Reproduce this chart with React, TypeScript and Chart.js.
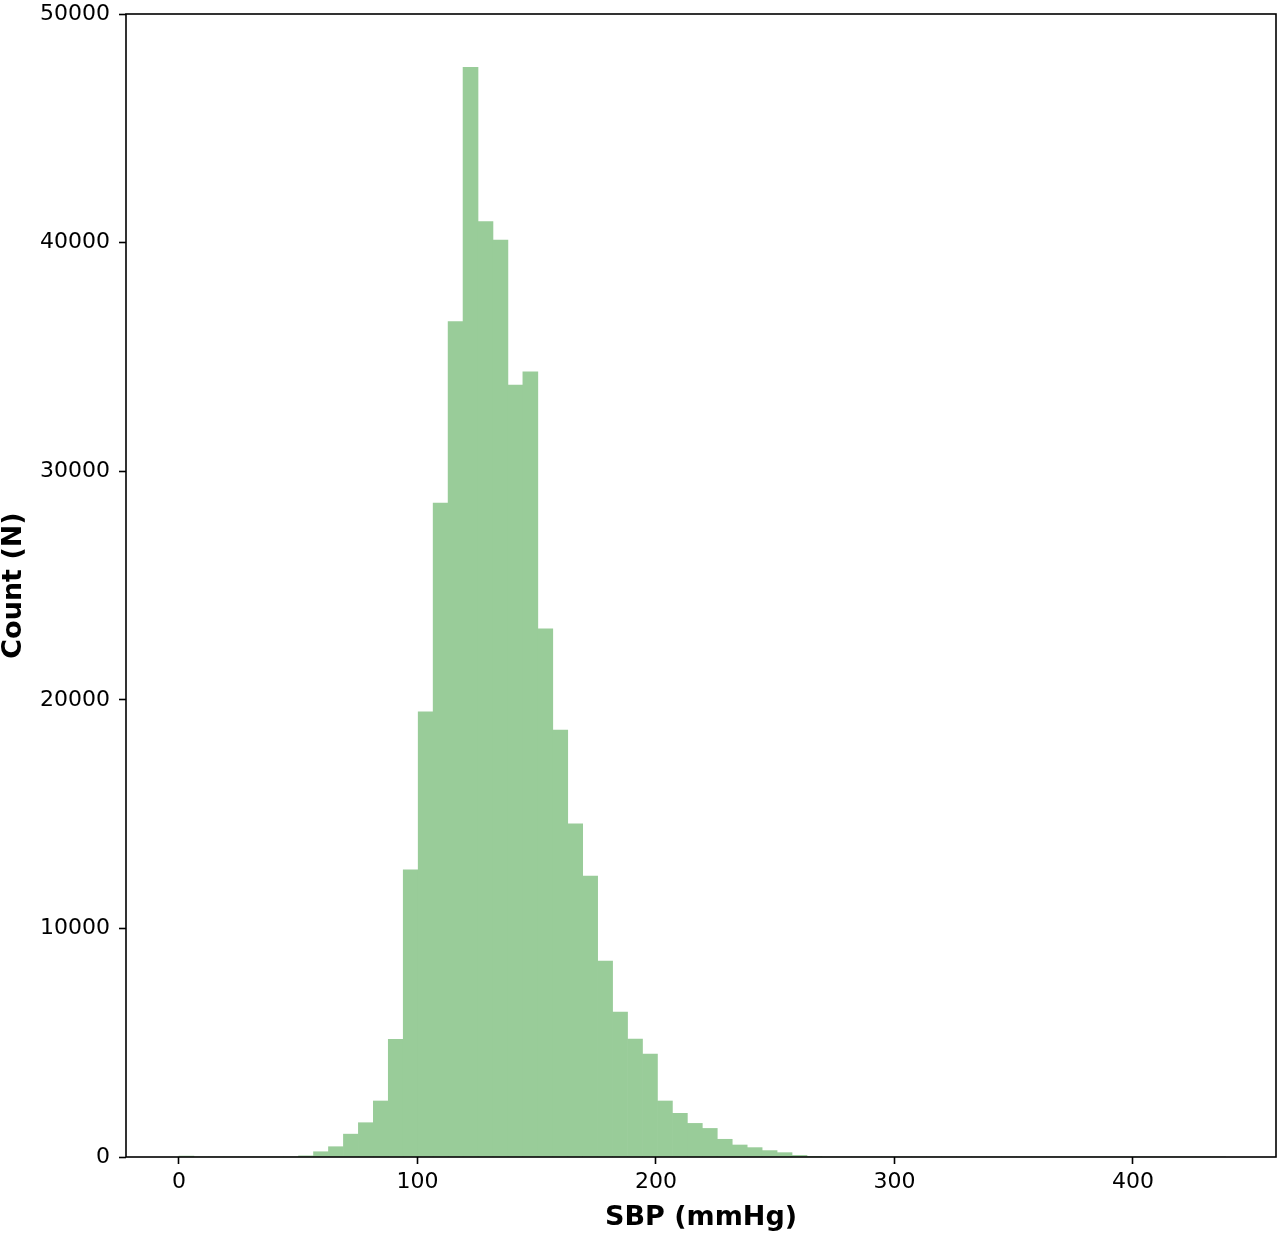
import React, { useEffect, useRef } from 'react'
import { Chart, registerables } from 'chart.js'

Chart.register(...registerables)

// histogram bins: 70 equal bins starting at 0 mmHg
const binStart = 0
const binWidth = 6.27
const counts = [
  40, 0, 0, 0, 0, 0, 0, 0, 50, 230,
  450, 1000, 1500, 2450, 5150, 12560, 19470, 28610, 36540, 47670,
  40920, 40110, 33770, 34350, 23100, 18680, 14570, 12290, 8570, 6340,
  5160, 4500, 2450, 1910, 1470, 1250, 775, 525, 410, 280,
  190, 70, 20, 0, 0, 0, 0, 0, 0, 0,
  0, 0, 0, 0, 0, 0, 0, 0, 0, 0,
  0, 0, 0, 0, 0, 0, 0, 0, 0, 0,
]
const xTicks = [0, 100, 200, 300, 400]
const yTicks = [0, 10000, 20000, 30000, 40000, 50000]

const FONT = '"DejaVu Sans", sans-serif'

// matplotlib-like box around the plot area
const framePlugin = {
  id: 'frame',
  afterDraw (chart: any) {
    const { ctx, chartArea } = chart
    ctx.save()
    ctx.strokeStyle = '#000'
    ctx.lineWidth = 1.6
    ctx.strokeRect(chartArea.left, chartArea.top, chartArea.right - chartArea.left, chartArea.bottom - chartArea.top)
    ctx.restore()
  },
}

export default function App () {
  const canvasRef = useRef<HTMLCanvasElement>(null)
  const chartRef = useRef<Chart | null>(null)

  useEffect(() => {
    if (chartRef.current) chartRef.current.destroy()
    if (!canvasRef.current) return

    const points = counts.map((c, i) => ({ x: binStart + binWidth * (i + 0.5), y: c }))

    chartRef.current = new Chart(canvasRef.current, {
      type: 'bar',
      data: {
        datasets: [{
          data: points as any,
          backgroundColor: '#99cc99',
          borderWidth: 0,
          barPercentage: 1,
          categoryPercentage: 1,
        }],
      },
      options: {
        animation: false,
        responsive: true,
        maintainAspectRatio: false,
        layout: { padding: { top: 14, right: 4, left: 0, bottom: 0 } },
        plugins: { legend: { display: false }, tooltip: { enabled: false } },
        scales: {
          x: {
            type: 'linear',
            offset: false,
            min: -22.2,
            max: 460.0,
            afterFit (scale: any) {
              scale.height = 77
              scale.paddingLeft = 0
              scale.paddingRight = 0
            },
            afterBuildTicks (scale: any) { scale.ticks = xTicks.map(v => ({ value: v })) },
            grid: { display: true, offset: false, drawOnChartArea: false, drawTicks: true, tickLength: 7, tickWidth: 1.6, color: '#000' },
            border: { display: false },
            ticks: { color: '#000', font: { family: FONT, size: 22 }, padding: 5, maxRotation: 0 },
            title: { display: true, text: 'SBP (mmHg)', color: '#000', font: { family: FONT, size: 27, weight: 'bold', lineHeight: 1 }, padding: { top: 0, bottom: 3 } },
          },
          y: {
            min: 0,
            max: 50000,
            afterFit (scale: any) {
              scale.width = 126
              scale.paddingTop = 0
              scale.paddingBottom = 0
            },
            afterBuildTicks (scale: any) { scale.ticks = yTicks.map(v => ({ value: v })) },
            grid: { display: true, drawOnChartArea: false, drawTicks: true, tickLength: 7, tickWidth: 1.6, color: '#000' },
            border: { display: false },
            ticks: { color: '#000', font: { family: FONT, size: 22 }, padding: 9, callback: (v: any) => String(v) },
            title: { display: true, text: 'Count (N)', color: '#000', font: { family: FONT, size: 27, weight: 'bold', lineHeight: 1 }, padding: { top: 0, bottom: 0 } },
          },
        },
      },
      plugins: [framePlugin],
    })

    return () => {
      if (chartRef.current) {
        chartRef.current.destroy()
        chartRef.current = null
      }
    }
  }, [])

  return (
    <div style={{ position: 'absolute', left: 0, top: 0, width: 1280, height: 1234, background: '#fff' }}>
      <canvas ref={canvasRef} />
    </div>
  )
}
